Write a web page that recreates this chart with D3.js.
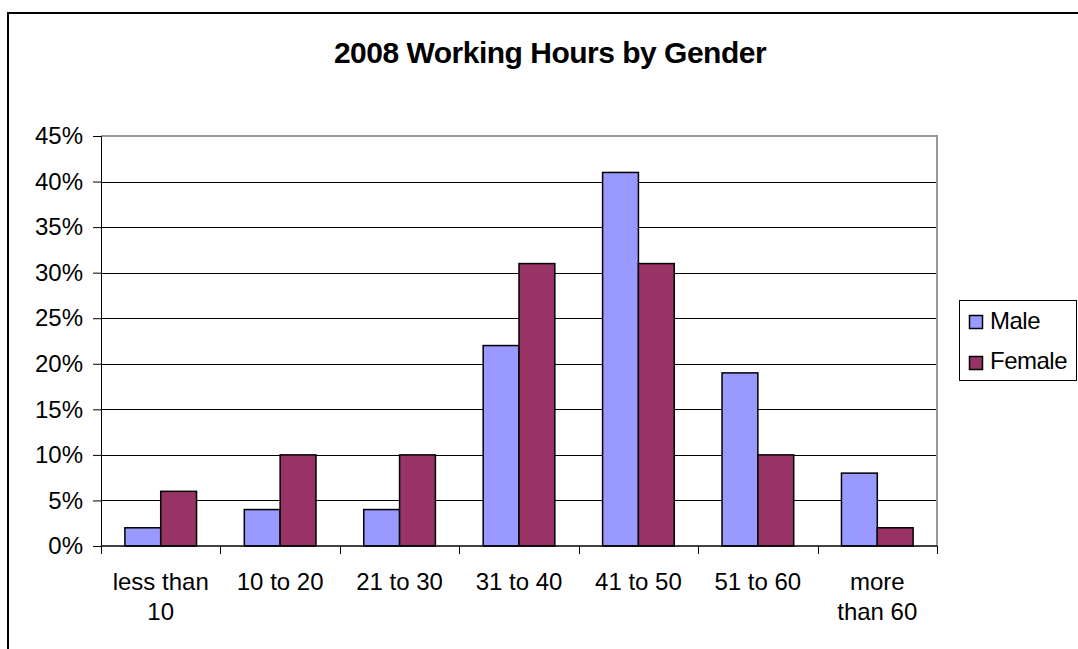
<!DOCTYPE html>
<html>
<head>
<meta charset="utf-8">
<script src="https://d3js.org/d3.v7.min.js"></script>
<style>
  body { margin: 0; background: #fff; }
  svg text { font-family: "Liberation Sans", Arial, sans-serif; fill: #000; }
</style>
</head>
<body>
<svg id="chart" width="1078" height="649"></svg>
<script>
// data
var categories = ["less than 10", "10 to 20", "21 to 30", "31 to 40", "41 to 50", "51 to 60", "more than 60"];
var catLines = [["less than", "10"], ["10 to 20"], ["21 to 30"], ["31 to 40"], ["41 to 50"], ["51 to 60"], ["more", "than 60"]];
var seriesNames = ["Male", "Female"];
var maleValues = [0.02, 0.04, 0.04, 0.22, 0.41, 0.19, 0.08];
var femaleValues = [0.06, 0.10, 0.10, 0.31, 0.31, 0.10, 0.02];
var yTicks = [0, 0.05, 0.10, 0.15, 0.20, 0.25, 0.30, 0.35, 0.40, 0.45];
var colors = ["#9999ff", "#993366"];

var svg = d3.select("#chart");

// outer chart frame (runs off the right and bottom edge)
svg.append("rect")
  .attr("x", 8).attr("y", 13)
  .attr("width", 1200).attr("height", 800)
  .attr("fill", "none").attr("stroke", "#000").attr("stroke-width", 2);

svg.append("text")
  .attr("x", 550).attr("y", 63)
  .attr("text-anchor", "middle")
  .attr("font-size", "30px").attr("font-weight", "bold")
  .attr("letter-spacing", "-0.5px")
  .text("2008 Working Hours by Gender");

var plotL = 101, plotR = 937, plotT = 136, plotB = 546;

var x0 = d3.scaleBand().domain(categories).range([plotL, plotR]).padding(0);
var bw = x0.bandwidth();
var x1 = d3.scaleBand().domain(seriesNames).range([bw * 0.2, bw * 0.8]).padding(0);
var y = d3.scaleLinear().domain([0, 0.45]).range([plotB, plotT]);

// gridlines
svg.append("g").selectAll("line").data(yTicks.slice(1, -1)).join("line")
  .attr("x1", plotL).attr("x2", plotR)
  .attr("y1", d => Math.round(y(d)) + 0.5).attr("y2", d => Math.round(y(d)) + 0.5)
  .attr("stroke", "#000").attr("stroke-width", 1);

// plot area border (grey top/right)
svg.append("path")
  .attr("d", "M" + plotL + "," + plotT + "H" + plotR + "V" + plotB)
  .attr("fill", "none").attr("stroke", "#999").attr("stroke-width", 2);

// bars
var rows = categories.map((c, i) => ({cat: c, vals: [maleValues[i], femaleValues[i]]}));
var groups = svg.append("g").selectAll("g").data(rows).join("g")
  .attr("transform", d => "translate(" + x0(d.cat) + ",0)");
groups.selectAll("rect")
  .data(d => d.vals.map((v, j) => ({name: seriesNames[j], v: v, j: j})))
  .join("rect")
  .attr("x", d => x1(d.name))
  .attr("y", d => y(d.v))
  .attr("width", x1.bandwidth())
  .attr("height", d => plotB - y(d.v))
  .attr("fill", d => colors[d.j])
  .attr("stroke", "#000").attr("stroke-width", 1.5);

// y axis
var yAxis = d3.axisLeft(y).tickValues(yTicks).tickFormat(d3.format(".0%")).tickSize(8).tickPadding(10);
var gy = svg.append("g").attr("transform", "translate(" + plotL + ",0)").call(yAxis);
gy.select(".domain").attr("stroke", "#000").attr("stroke-width", 1);
gy.selectAll(".tick line").attr("stroke", "#000");
gy.selectAll("text").attr("font-size", "24px").attr("font-family", "Liberation Sans, Arial, sans-serif");

// x axis: ticks on category boundaries
var bounds = categories.map(c => x0(c)).concat([plotR]);
svg.append("line")
  .attr("x1", plotL).attr("x2", plotR)
  .attr("y1", plotB).attr("y2", plotB)
  .attr("stroke", "#000").attr("stroke-width", 1.5);
svg.append("g").selectAll("line").data(bounds).join("line")
  .attr("x1", d => Math.round(d) + 0.5).attr("x2", d => Math.round(d) + 0.5)
  .attr("y1", plotB).attr("y2", plotB + 8)
  .attr("stroke", "#000");

var xl = svg.append("g").selectAll("text").data(categories).join("text")
  .attr("x", d => x0(d) + bw / 2)
  .attr("y", 590)
  .attr("text-anchor", "middle")
  .attr("font-size", "24px");
xl.each(function(d, i) {
  var t = d3.select(this);
  catLines[i].forEach((ln, k) => {
    t.append("tspan").attr("x", x0(d) + bw / 2).attr("dy", k === 0 ? 0 : 30).text(ln);
  });
});

// legend
var lg = svg.append("g");
lg.append("rect")
  .attr("x", 959.5).attr("y", 300.5).attr("width", 117).attr("height", 80)
  .attr("fill", "#fff").attr("stroke", "#000").attr("stroke-width", 1);
seriesNames.forEach((s, i) => {
  lg.append("rect")
    .attr("x", 969.5).attr("y", 315.5 + i * 41).attr("width", 13).attr("height", 13)
    .attr("fill", colors[i]).attr("stroke", "#000").attr("stroke-width", 1.5);
  lg.append("text")
    .attr("x", 990).attr("y", 329 + i * 40)
    .attr("font-size", "24px").attr("letter-spacing", "-0.5px")
    .text(s);
});
</script>
</body>
</html>
